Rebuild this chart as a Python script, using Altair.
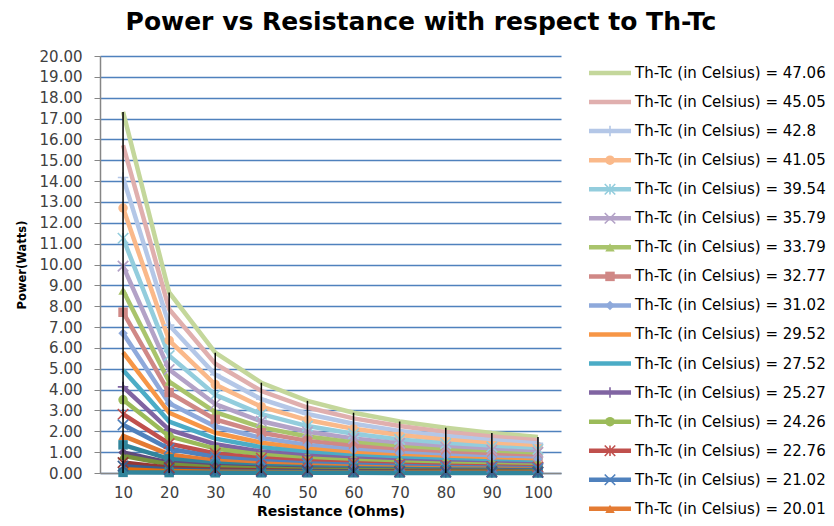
import altair as alt
import pandas as pd

resistance = [10, 20, 30, 40, 50, 60, 70, 80, 90, 100]

legend_labels = [
    "Th-Tc (in Celsius) = 47.06",
    "Th-Tc (in Celsius) = 45.05",
    "Th-Tc (in Celsius) = 42.8",
    "Th-Tc (in Celsius) = 41.05",
    "Th-Tc (in Celsius) = 39.54",
    "Th-Tc (in Celsius) = 35.79",
    "Th-Tc (in Celsius) = 33.79",
    "Th-Tc (in Celsius) = 32.77",
    "Th-Tc (in Celsius) = 31.02",
    "Th-Tc (in Celsius) = 29.52",
    "Th-Tc (in Celsius) = 27.52",
    "Th-Tc (in Celsius) = 25.27",
    "Th-Tc (in Celsius) = 24.26",
    "Th-Tc (in Celsius) = 22.76",
    "Th-Tc (in Celsius) = 21.02",
    "Th-Tc (in Celsius) = 20.01",
]
# series below the last legend entry (legend is cut off in the original)
hidden_labels = ["Series 17", "Series 18", "Series 19", "Series 20",
                 "Series 21", "Series 22", "Series 23"]

p_4706 = [17.32, 8.66, 5.77, 4.33, 3.46, 2.89, 2.47, 2.17, 1.92, 1.73]
p_4505 = [15.72, 7.86, 5.24, 3.93, 3.14, 2.62, 2.25, 1.97, 1.75, 1.57]
p_4280 = [14.17, 7.09, 4.72, 3.54, 2.83, 2.36, 2.02, 1.77, 1.57, 1.42]
p_4105 = [12.71, 6.36, 4.24, 3.18, 2.54, 2.12, 1.82, 1.59, 1.41, 1.27]
p_3954 = [11.26, 5.63, 3.75, 2.82, 2.25, 1.88, 1.61, 1.41, 1.25, 1.13]
p_3579 = [9.92, 4.96, 3.31, 2.48, 1.98, 1.65, 1.42, 1.24, 1.10, 0.99]
p_3379 = [8.75, 4.38, 2.92, 2.19, 1.75, 1.46, 1.25, 1.09, 0.97, 0.88]
p_3277 = [7.71, 3.86, 2.57, 1.93, 1.54, 1.29, 1.10, 0.96, 0.86, 0.77]
p_3102 = [6.70, 3.35, 2.23, 1.68, 1.34, 1.12, 0.96, 0.84, 0.74, 0.67]
p_2952 = [5.78, 2.89, 1.93, 1.45, 1.16, 0.96, 0.83, 0.72, 0.64, 0.58]
p_2752 = [4.94, 2.47, 1.65, 1.24, 0.99, 0.82, 0.71, 0.62, 0.55, 0.49]
p_2527 = [4.13, 2.07, 1.38, 1.03, 0.83, 0.69, 0.59, 0.52, 0.46, 0.41]
p_2426 = [3.51, 1.76, 1.17, 0.88, 0.70, 0.59, 0.50, 0.44, 0.39, 0.35]
p_2276 = [2.82, 1.41, 0.94, 0.71, 0.56, 0.47, 0.40, 0.35, 0.31, 0.28]
p_2102 = [2.31, 1.16, 0.77, 0.58, 0.46, 0.39, 0.33, 0.29, 0.26, 0.23]
p_2001 = [1.78, 0.89, 0.59, 0.45, 0.36, 0.30, 0.25, 0.22, 0.20, 0.18]
p_s17 = [1.35, 0.68, 0.45, 0.34, 0.27, 0.23, 0.19, 0.17, 0.15, 0.14]
p_s18 = [0.98, 0.49, 0.33, 0.25, 0.20, 0.16, 0.14, 0.12, 0.11, 0.10]
p_s19 = [0.82, 0.41, 0.27, 0.21, 0.16, 0.14, 0.12, 0.10, 0.09, 0.08]
p_s20 = [0.50, 0.25, 0.17, 0.13, 0.10, 0.08, 0.07, 0.06, 0.06, 0.05]
p_s21 = [0.33, 0.17, 0.11, 0.08, 0.07, 0.06, 0.05, 0.04, 0.04, 0.03]
p_s22 = [0.18, 0.09, 0.06, 0.05, 0.04, 0.03, 0.03, 0.02, 0.02, 0.02]
p_s23 = [0.03, 0.02, 0.01, 0.01, 0.01, 0.01, 0.00, 0.00, 0.00, 0.00]

series_power = [p_4706, p_4505, p_4280, p_4105, p_3954, p_3579, p_3379, p_3277,
                p_3102, p_2952, p_2752, p_2527, p_2426, p_2276, p_2102, p_2001,
                p_s17, p_s18, p_s19, p_s20, p_s21, p_s22, p_s23]

series_colors = ["#C4D79B", "#E0AFAE", "#B4C7E7", "#FAB98A", "#93CDDD", "#B3A2C7",
                 "#A9C46C", "#D08886", "#8EA9DB", "#F79646", "#4BACC6", "#8064A2",
                 "#9BBB59", "#C0504D", "#4F81BD", "#E47B33",
                 "#31859C", "#604A7B", "#77933C", "#953735", "#376092", "#E46C0A",
                 "#31859C"]

series_markers = ["none", "none", "plus", "circle", "star", "x", "triangle-up", "square",
                  "diamond", "none", "none", "plus", "circle", "star", "x", "triangle-up",
                  "square", "diamond", "triangle-up", "x", "star", "triangle-up", "square"]

all_labels = legend_labels + hidden_labels

# error bars (vertical black lines from 0 to the top series)
err_top = [17.32, 8.66, 5.77, 4.33, 3.46, 2.89, 2.47, 2.17, 1.92, 1.73]

y_ticks = [0, 1, 2, 3, 4, 5, 6, 7, 8, 9, 10, 11, 12, 13, 14, 15, 16, 17, 18, 19, 20]

FONT = "DejaVu Sans"

rows = []
for idx, (lab, vals, mk) in enumerate(zip(all_labels, series_power, series_markers)):
    for r, p in zip(resistance, vals):
        rows.append({"series": lab, "R": r, "P": p, "idx": idx, "marker": mk})
df = pd.DataFrame(rows)
err_df = pd.DataFrame({"R": resistance, "P": [0] * len(resistance), "top": err_top})

stroke_shapes = {
    "plus": "M-1,0H1M0,-1V1",
    "x": "M-1,-1L1,1M-1,1L1,-1",
    "star": "M-1,-1L1,1M-1,1L1,-1M0,-1V1",
}
df["shape"] = df["marker"].map(lambda m: stroke_shapes.get(m, m))

cscale = alt.Scale(domain=all_labels, range=series_colors)

x_enc = alt.X("R:O", scale=alt.Scale(type="point", padding=0.5),
              axis=alt.Axis(title="Resistance (Ohms)", labelAngle=0, ticks=False,
                            domainColor="#868686", domainWidth=1.5, labelFont=FONT,
                            labelFontSize=15, labelColor="#404040", labelPadding=12,
                            titleFont=FONT, titleFontSize=14, titleFontWeight="bold",
                            titleColor="#000000", titlePadding=4, grid=False))
y_enc = alt.Y("P:Q", scale=alt.Scale(domain=[0, 20], nice=False),
              axis=alt.Axis(title="Power(Watts)", values=y_ticks, format=".2f",
                            grid=True, gridColor="#4F81BD", gridWidth=1.5,
                            domainColor="#868686", domainWidth=1.5, tickColor="#868686",
                            tickSize=6, labelFont=FONT, labelFontSize=15,
                            labelColor="#404040", labelPadding=12, titleFont=FONT,
                            titleFontSize=11.5, titleFontWeight="bold", titleColor="#000000",
                            titlePadding=12))

color_enc = alt.Color("series:N", scale=cscale, legend=None)

base = alt.Chart(df)
lines = base.mark_line(strokeWidth=4.5).encode(
    x=x_enc, y=y_enc, color=color_enc, order=alt.Order("R:Q"),
)
filled_pts = base.transform_filter(
    alt.FieldOneOfPredicate(field="marker", oneOf=["circle", "square", "triangle-up", "diamond"])
).mark_point(filled=True, size=90, opacity=1).encode(
    x=x_enc, y=y_enc, color=color_enc,
    shape=alt.Shape("shape:N", scale=None),
)
stroke_pts = base.transform_filter(
    alt.FieldOneOfPredicate(field="marker", oneOf=["plus", "x", "star"])
).mark_point(filled=False, size=110, strokeWidth=1.6, opacity=1).encode(
    x=x_enc, y=y_enc, color=color_enc,
    shape=alt.Shape("shape:N", scale=None),
)
errs = alt.Chart(err_df).mark_rule(color="#000000", strokeWidth=1.5).encode(
    x=x_enc, y=y_enc, y2=alt.Y2("top:Q"),
)

main = alt.layer(lines, filled_pts, stroke_pts, errs).properties(width=461, height=417)

# legend panel
leg_df = df[df["idx"] < 16].drop_duplicates("series")[["series", "marker", "shape", "idx"]].copy()
leg_df["x0"] = 0
leg_df["x1"] = 42
leg_df["xm"] = 21
leg_df["xt"] = 46
ly = alt.Y("idx:Q", axis=None,
           scale=alt.Scale(domain=[-0.585, 15.35], reverse=True, nice=False, zero=False))
lx_scale = alt.Scale(domain=[0, 236])
lbase = alt.Chart(leg_df)
leg_rule = lbase.mark_rule(strokeWidth=4.5).encode(
    x=alt.X("x0:Q", scale=lx_scale, axis=None), x2="x1:Q", y=ly, color=color_enc,
)
leg_fill = lbase.transform_filter(
    alt.FieldOneOfPredicate(field="marker", oneOf=["circle", "square", "triangle-up", "diamond"])
).mark_point(filled=True, size=90, opacity=1).encode(
    x=alt.X("xm:Q", scale=lx_scale, axis=None), y=ly, color=color_enc,
    shape=alt.Shape("shape:N", scale=None),
)
leg_stroke = lbase.transform_filter(
    alt.FieldOneOfPredicate(field="marker", oneOf=["plus", "x", "star"])
).mark_point(filled=False, size=110, strokeWidth=1.6, opacity=1).encode(
    x=alt.X("xm:Q", scale=lx_scale, axis=None), y=ly, color=color_enc,
    shape=alt.Shape("shape:N", scale=None),
)
leg_text = lbase.mark_text(align="left", baseline="middle", font=FONT, fontSize=15,
                           color="#000000").encode(
    x=alt.X("xt:Q", scale=lx_scale, axis=None), y=ly, text="series:N",
)
legend = alt.layer(leg_rule, leg_fill, leg_stroke, leg_text).properties(width=236, height=463)

chart = alt.hconcat(main, legend, spacing=28, bounds="flush").properties(
    title=alt.TitleParams("Power vs Resistance with respect to Th-Tc", anchor="middle",
                          font=FONT, fontSize=25, fontWeight="bold", color="#000000",
                          offset=14),
    padding={"left": 8, "top": 2, "right": 0, "bottom": 0},
).configure_view(stroke=None)

chart.save("out.html", embed_options={"renderer": "svg", "actions": False})
